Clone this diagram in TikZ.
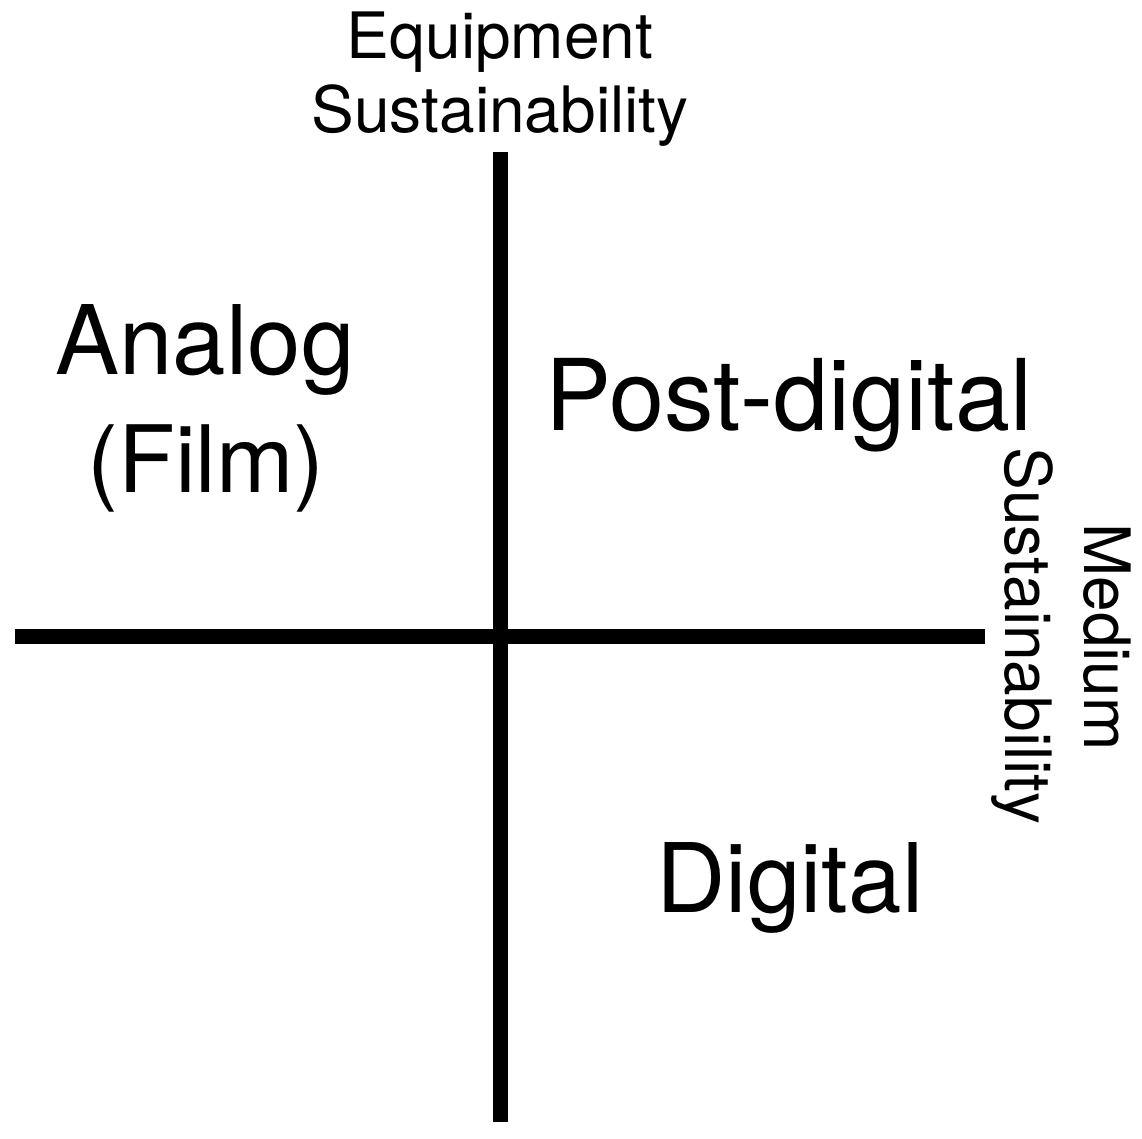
\documentclass[tikz,border=0pt]{standalone}
\usepackage{fontspec}
\setmainfont{TeX Gyre Heros}
\begin{document}
\begin{tikzpicture}[x=1pt,y=-1pt,
  axis/.style={line width=15pt,line cap=butt,black},
  small/.style={inner sep=0pt,anchor=base,font=\fontsize{64}{74}\selectfont},
  big/.style={inner sep=0pt,anchor=base,font=\fontsize{96}{110}\selectfont}]
\useasboundingbox (0,0) rectangle (1142,1138);
\coordinate (vtop) at (500.5,152);
\coordinate (vbot) at (500.5,1122);
\coordinate (hleft) at (15,636.5);
\coordinate (hright) at (985,636.5);
\draw[axis] (vtop) -- (vbot);
\draw[axis] (hleft) -- (hright);
\node[small] (eq1) at (500,58) {Equipment};
\node[small] (eq2) at (500,132) {Sustainability};
\node[small,rotate=-90] (med1) at (1084,637) {Medium};
\node[small,rotate=-90] (med2) at (1005,636) {Sustainability};
\node[big] (an1) at (205,374) {Analog};
\node[big,font=\fontsize{93}{110}\selectfont] (an2) at (206,492) {(Film)};
\node[big,font=\fontsize{99}{110}\selectfont] (post) at (789,430) {Post-digital};
\node[big] (dig) at (790,912) {Digital};
\end{tikzpicture}
\end{document}
